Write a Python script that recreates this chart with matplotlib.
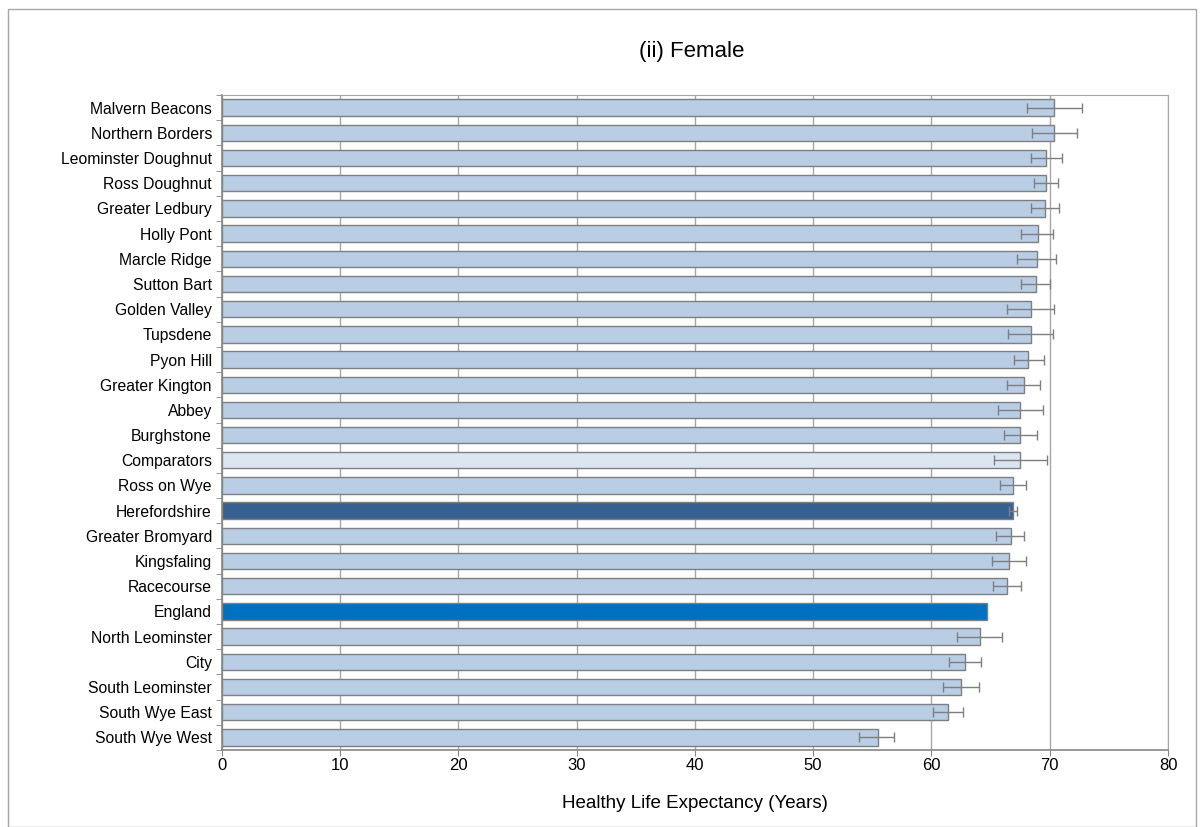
import matplotlib
matplotlib.use("Agg")
import matplotlib.pyplot as plt
import numpy as np
from matplotlib.patches import Rectangle

plt.rcParams["font.family"] = ["Liberation Sans", "DejaVu Sans"]

areas = [
    "Malvern Beacons", "Northern Borders", "Leominster Doughnut", "Ross Doughnut",
    "Greater Ledbury", "Holly Pont", "Marcle Ridge", "Sutton Bart", "Golden Valley",
    "Tupsdene", "Pyon Hill", "Greater Kington", "Abbey", "Burghstone", "Comparators",
    "Ross on Wye", "Herefordshire", "Greater Bromyard", "Kingsfaling", "Racecourse",
    "England", "North Leominster", "City", "South Leominster", "South Wye East",
    "South Wye West",
]
hle = [70.4, 70.4, 69.7, 69.7, 69.6, 69.0, 68.9, 68.8, 68.4,
       68.4, 68.2, 67.8, 67.5, 67.5, 67.5,
       66.9, 66.9, 66.7, 66.6, 66.4,
       64.7, 64.1, 62.8, 62.5, 61.4,
       55.5]
ci_low = [68.1, 68.5, 68.4, 68.7, 68.4, 67.6, 67.2, 67.6, 66.4,
          66.5, 67.0, 66.4, 65.6, 66.1, 65.3,
          65.8, 66.6, 65.5, 65.1, 65.2,
          np.nan, 62.2, 61.5, 61.0, 60.1,
          53.9]
ci_high = [72.7, 72.3, 71.0, 70.7, 70.8, 70.3, 70.5, 70.0, 70.4,
           70.3, 69.5, 69.2, 69.4, 68.9, 69.8,
           68.0, 67.2, 67.8, 68.0, 67.6,
           np.nan, 66.0, 64.2, 64.0, 62.7,
           56.8]

special_colours = {"Comparators": "#DCE6F2", "Herefordshire": "#376092", "England": "#0070C0"}


def main() -> None:
    fig = plt.figure(figsize=(12, 8.27), dpi=100)
    ax = fig.add_axes([221.7 / 1200, 1 - 750 / 827, (1168 - 221.7) / 1200, (750 - 95) / 827])

    y = np.arange(len(areas))
    values = np.array(hle)
    low = values - np.array(ci_low)
    high = np.array(ci_high) - values
    colours = [special_colours.get(a, "#B9CDE5") for a in areas]

    ax.barh(y, values, height=0.65, color=colours, edgecolor="#7F7F7F", linewidth=1, zorder=2)
    ax.errorbar(values, y, xerr=[low, high], fmt="none", ecolor="#7F7F7F",
                elinewidth=1, capsize=3.5, capthick=1, zorder=3)

    ax.set_xlim(0, 80)
    ax.set_ylim(len(areas) - 0.5, -0.5)
    ax.set_xticks(np.arange(0, 81, 10))
    ax.set_yticks(y)
    ax.set_yticklabels(areas)
    ax.set_yticks(np.arange(-0.5, len(areas)), minor=True)
    ax.tick_params(axis="y", which="major", length=0, pad=7, labelsize=11.3)
    ax.tick_params(axis="y", which="minor", length=4, color="#868686")
    ax.tick_params(axis="x", length=4, color="#868686", labelsize=12, pad=2)
    ax.xaxis.grid(True, color="#A6A6A6", linewidth=1, zorder=0)
    ax.set_axisbelow(True)

    for side in ["top", "right"]:
        ax.spines[side].set_color("#A6A6A6")
    for side in ["left", "bottom"]:
        ax.spines[side].set_color("#868686")
        ax.spines[side].set_linewidth(1.2)

    ax.set_xlabel("Healthy Life Expectancy (Years)", fontsize=13.5, labelpad=15.5)
    fig.text(692 / 1200, 1 - 52 / 827, "(ii) Female", ha="center", va="center", fontsize=16)

    fig.patches.append(Rectangle((8 / 1200, 0), 1188 / 1200, 1 - 9 / 827,
                                 transform=fig.transFigure, fill=False,
                                 edgecolor="#A6A6A6", linewidth=1))

    fig.savefig("out.png", dpi=100)


if __name__ == "__main__":
    main()
